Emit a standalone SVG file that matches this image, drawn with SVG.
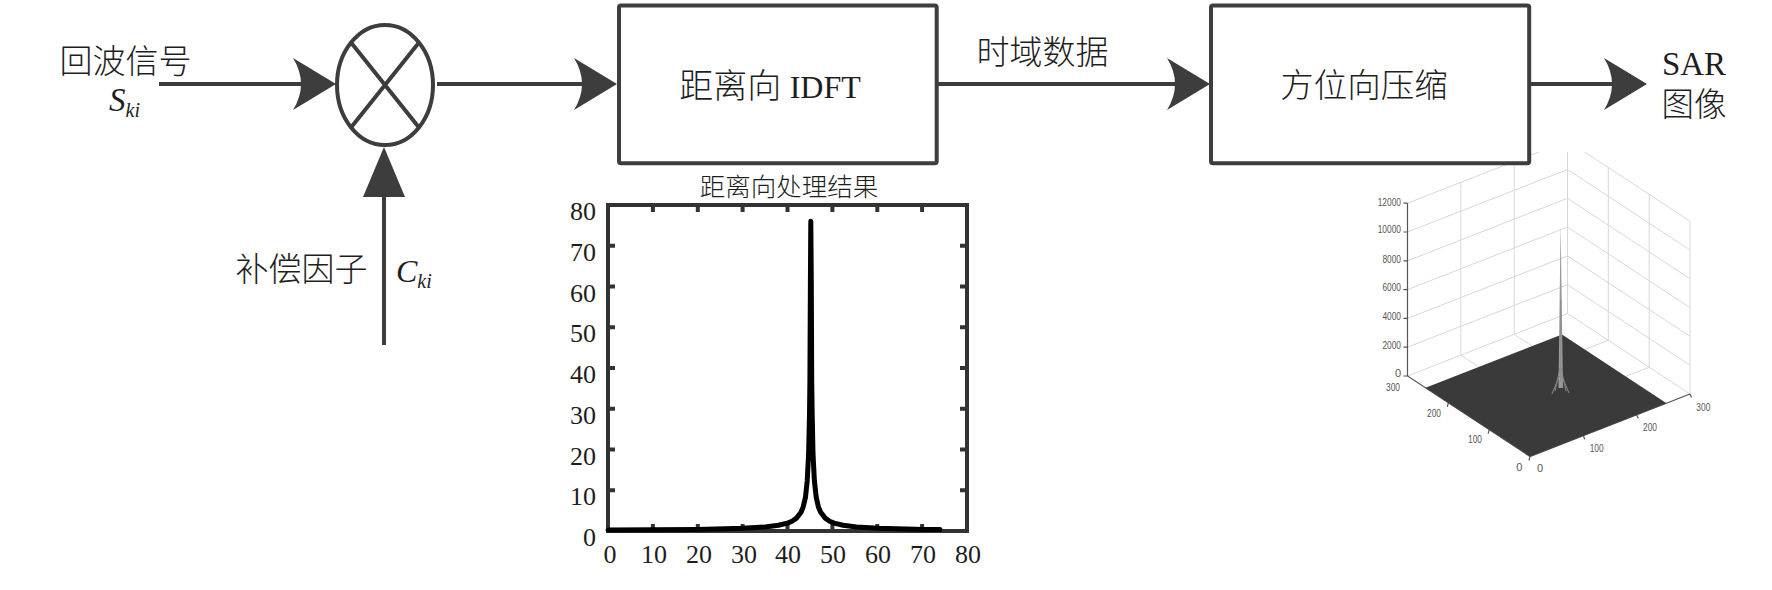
<svg xmlns="http://www.w3.org/2000/svg" width="1772" height="590" viewBox="0 0 1772 590">
<defs>
<style>
.ln{stroke:#3d3d3d;stroke-width:4;fill:none}
.box{fill:#fff;stroke:#3d3d3d;stroke-width:4}
.t{font-family:'Liberation Serif','Noto Sans CJK SC',serif;fill:#1e1e1e;font-weight:300}
.it{font-style:italic}
.tk{font-family:'Liberation Serif',serif;font-size:26px;fill:#1e1e1e}
.g3{stroke:#d8d8d8;stroke-width:1;fill:none}
.ax3{stroke:#555;stroke-width:1.2;fill:none}
.l3{font-family:'Liberation Sans',Arial,sans-serif;font-size:11px;fill:#555}
</style>
<path id="ahR" d="M0,0 L-43,-26 Q-27,0 -43,26 Z"/>
<clipPath id="c3"><rect x="1330" y="152" width="442" height="438"/></clipPath>
</defs>
<rect width="1772" height="590" fill="#fff"/>

<g id="node-sar-plot" clip-path="url(#c3)">
<path class="g3" d="M1407.5,376 L1567.5,313.5 M1407.5,347.2 L1567.5,284.7 M1407.5,318.4 L1567.5,255.9 M1407.5,289.6 L1567.5,227.1 M1407.5,260.8 L1567.5,198.3 M1407.5,232 L1567.5,169.5 M1407.5,203.2 L1567.5,140.7 M1460.8,355.2 V182.4 M1514.2,334.3 V161.5 M1567.5,313.5 V140.7 M1567.5,313.5 L1690,394 M1567.5,284.7 L1690,365.2 M1567.5,255.9 L1690,336.4 M1567.5,227.1 L1690,307.6 M1567.5,198.3 L1690,278.8 M1567.5,169.5 L1690,250 M1567.5,140.7 L1690,221.2 M1608.3,340.3 V167.5 M1649.2,367.2 V194.4 M1690,394 V221.2 M1489.2,429.7 L1649.2,367.2 M1448.3,402.8 L1608.3,340.3 M1583.3,435.7 L1460.8,355.2 M1636.7,414.8 L1514.2,334.3"/>
<path class="ax3" d="M1407.5,203.2 V376 L1530,456.5 L1690,394 M1407.5,203.2 h-4 M1407.5,232 h-4 M1407.5,260.8 h-4 M1407.5,289.6 h-4 M1407.5,318.4 h-4 M1407.5,347.2 h-4 M1407.5,376 h-4 M1448.3,402.8 l-1,4 M1489.2,429.7 l-1,4 M1530,456.5 l-1,4 M1583.3,435.7 l1.5,3.5 M1636.7,414.8 l1.5,3.5 M1690,394 l1.5,3.5"/>
<polygon points="1530,456.5 1425.5,387.8 1562,334.5 1666.5,403.2" fill="#3a3a3a"/>
<polygon points="1558.5,388 1560.6,224 1563,388" fill="#9a9a9a"/>
<path d="M1560.8,300 L1560.8,382 M1552,394 L1559.5,376 M1569,393 L1561.5,376 M1555,391 L1560,368 M1566,391 L1561,368" stroke="#8a8a8a" stroke-width="1" fill="none"/>
<g class="l3" text-anchor="end">
<text x="1401" y="205.7" textLength="23.3" lengthAdjust="spacingAndGlyphs">12000</text>
<text x="1401" y="233.3" textLength="23.3" lengthAdjust="spacingAndGlyphs">10000</text>
<text x="1401" y="262.7" textLength="18.6" lengthAdjust="spacingAndGlyphs">8000</text>
<text x="1401" y="291.3" textLength="18.6" lengthAdjust="spacingAndGlyphs">6000</text>
<text x="1401" y="320" textLength="18.6" lengthAdjust="spacingAndGlyphs">4000</text>
<text x="1401" y="349.3" textLength="18.6" lengthAdjust="spacingAndGlyphs">2000</text>
<text x="1401" y="377.3">0</text>
<text x="1400" y="391" textLength="14" lengthAdjust="spacingAndGlyphs">300</text>
<text x="1441" y="417" textLength="14" lengthAdjust="spacingAndGlyphs">200</text>
<text x="1482" y="443" textLength="14" lengthAdjust="spacingAndGlyphs">100</text>
<text x="1522.4" y="470.7">0</text>
</g>
<g class="l3">
<text x="1537" y="472.3">0</text>
<text x="1589.7" y="452.3" textLength="14" lengthAdjust="spacingAndGlyphs">100</text>
<text x="1643" y="431.3" textLength="14" lengthAdjust="spacingAndGlyphs">200</text>
<text x="1696.3" y="411.3" textLength="14" lengthAdjust="spacingAndGlyphs">300</text>
</g>
</g>

<g id="connectors">
<line class="ln" x1="159" y1="84" x2="309" y2="84"/>
<use href="#ahR" x="336" y="84" fill="#3d3d3d"/>
<line class="ln" x1="437" y1="84" x2="590" y2="84"/>
<use href="#ahR" x="617" y="84" fill="#3d3d3d"/>
<line class="ln" x1="938" y1="84" x2="1183" y2="84"/>
<use href="#ahR" x="1210" y="84" fill="#3d3d3d"/>
<line class="ln" x1="1531" y1="84" x2="1620" y2="84"/>
<use href="#ahR" x="1647" y="84" fill="#3d3d3d"/>
<line class="ln" x1="384" y1="345" x2="384" y2="192"/>
<path d="M384,147 L363,197 L405,197 Z" fill="#3d3d3d"/>
</g>

<g id="node-input-label">
<text class="t" x="125.5" y="73" font-size="33" text-anchor="middle">回波信号</text>
<text class="t it" x="109" y="111" font-size="33">S<tspan font-size="20" dy="6">ki</tspan></text>
</g>

<g id="node-multiplier">
<ellipse cx="385" cy="85" rx="48" ry="60" class="ln"/>
<path class="ln" d="M351,42.6 L419,127.4 M419,42.6 L351,127.4"/>
</g>

<g id="node-comp-label">
<text class="t" x="301.5" y="281" font-size="33" text-anchor="middle">补偿因子</text>
<text class="t it" x="396" y="282" font-size="32">C<tspan font-size="20" dy="6">ki</tspan></text>
</g>

<g id="node-idft">
<rect class="box" x="619" y="5.5" width="317.7" height="157.8" rx="2"/>
<text class="t" x="770" y="98" text-anchor="middle"><tspan font-size="34">距离向 </tspan><tspan font-size="32">IDFT</tspan></text>
</g>

<g id="node-time-label">
<text class="t" x="1042.5" y="64" font-size="33" text-anchor="middle">时域数据</text>
</g>

<g id="node-azimuth">
<rect class="box" x="1211" y="5.5" width="318.2" height="157.8" rx="2"/>
<text class="t" x="1364" y="97" font-size="33.5" text-anchor="middle">方位向压缩</text>
</g>

<g id="node-output">
<text class="t" x="1694" y="75" font-size="33" text-anchor="middle">SAR</text>
<text class="t" x="1694" y="116" font-size="32.5" text-anchor="middle">图像</text>
</g>

<g id="node-range-plot">
<text class="t" x="789" y="196" font-size="25.5" text-anchor="middle">距离向处理结果</text>
<rect x="608" y="205" width="359" height="326" fill="none" stroke="#333" stroke-width="4"/>
<path stroke="#333" stroke-width="4" fill="none" d="M652.9,531 v-7 M697.8,531 v-7 M742.6,531 v-7 M787.5,531 v-7 M832.4,531 v-7 M877.3,531 v-7 M922.1,531 v-7 M652.9,205 v7 M697.8,205 v7 M742.6,205 v7 M787.5,205 v7 M832.4,205 v7 M877.3,205 v7 M922.1,205 v7 M608,490.25 h7 M608,449.5 h7 M608,408.75 h7 M608,368 h7 M608,327.25 h7 M608,286.5 h7 M608,245.75 h7 M967,490.25 h-7 M967,449.5 h-7 M967,408.75 h-7 M967,368 h-7 M967,327.25 h-7 M967,286.5 h-7 M967,245.75 h-7"/>
<polyline fill="none" stroke="#000" stroke-width="5" stroke-linejoin="round" stroke-linecap="round" points="608,530.1 652.9,529.8 697.8,529.4 742.6,528.3 765.1,527.0 778.5,525.3 787.5,523.1 792.0,521.2 796.5,518.1 801.0,512.3 803.2,506.9 805.5,497.1 807.2,480.9 808.6,454.0 809.5,414.8 809.9,381.0 810.4,283.6 810.8,221.3 811.3,283.6 811.7,381.0 812.2,414.8 813.0,454.0 814.4,480.9 816.2,497.1 818.4,506.9 820.7,512.3 825.2,518.1 829.6,521.2 834.1,523.1 843.1,525.3 856.6,527.0 879.0,528.3 923.9,529.4 940.1,529.6"/>
<g class="tk" text-anchor="end">
<text x="596" y="220">80</text>
<text x="596" y="260.75">70</text>
<text x="596" y="301.5">60</text>
<text x="596" y="342.25">50</text>
<text x="596" y="383">40</text>
<text x="596" y="423.75">30</text>
<text x="596" y="464.5">20</text>
<text x="596" y="505.25">10</text>
<text x="596" y="546">0</text>
</g>
<g class="tk" text-anchor="middle">
<text x="610" y="563">0</text>
<text x="654" y="563">10</text>
<text x="699" y="563">20</text>
<text x="744" y="563">30</text>
<text x="788" y="563">40</text>
<text x="833" y="563">50</text>
<text x="878" y="563">60</text>
<text x="923" y="563">70</text>
<text x="968" y="563">80</text>
</g>
</g>
</svg>
